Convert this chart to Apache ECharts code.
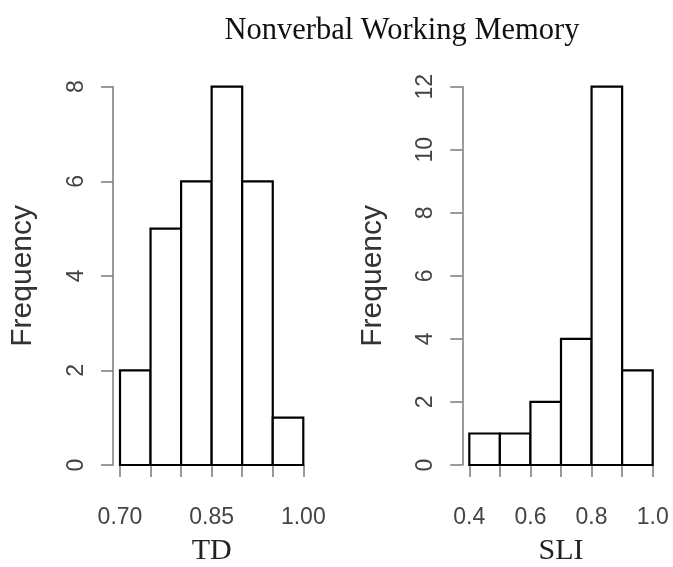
<!DOCTYPE html>
<html>
<head>
<meta charset="utf-8">
<script src="https://cdn.jsdelivr.net/npm/echarts@6/dist/echarts.min.js"></script>
<style>html,body{margin:0;padding:0;background:#fff}#c{width:673px;height:567px}</style>
</head>
<body>
<div id="c"></div>
<script>
// ---- data ----
const chartTitle = 'Nonverbal Working Memory';
const tdBinEdges = [0.70, 0.75, 0.80, 0.85, 0.90, 0.95, 1.00];
const tdCounts = [2, 5, 6, 8, 6, 1];
const tdTickLabels = ['0.70', '0.85', '1.00'];
const tdYTicks = [0, 2, 4, 6, 8];
const sliBinEdges = [0.4, 0.5, 0.6, 0.7, 0.8, 0.9, 1.0];
const sliCounts = [1, 1, 2, 4, 12, 3];
const sliTickLabels = ['0.4', '0.6', '0.8', '1.0'];
const sliYTicks = [0, 2, 4, 6, 8, 10, 12];

function binsData(edges, counts) {
  return counts.map((c, i) => [edges[i], edges[i + 1], c]);
}
function renderBar(params, api) {
  const p0 = api.coord([api.value(0), 0]);
  const p1 = api.coord([api.value(1), api.value(2)]);
  return {
    type: 'rect',
    shape: { x: p0[0], y: p1[1], width: p1[0] - p0[0], height: p0[1] - p1[1] },
    style: { fill: '#fff', stroke: '#000', lineWidth: 2.2 }
  };
}
const sans = 'Liberation Sans, Arial, sans-serif';
const serif = 'Liberation Serif, Times New Roman, serif';
const axisGrey = '#7a7a7a';

function xAxisCfg(grid, edges, labels, name) {
  const step = +(edges[1] - edges[0]).toFixed(4);
  return {
    type: 'value', gridIndex: grid, min: edges[0], max: edges[edges.length - 1], interval: step,
    offset: 15,
    name: name, nameLocation: 'middle', nameGap: 56,
    nameTextStyle: { fontFamily: serif, fontSize: 30, color: '#222' },
    axisLine: { show: true, lineStyle: { color: axisGrey, width: 1.5 } },
    axisTick: { show: true, length: 12, lineStyle: { color: axisGrey, width: 1.5 } },
    splitLine: { show: false },
    axisLabel: {
      margin: 26, fontFamily: sans, fontSize: 23, color: '#444', showMinLabel: true, showMaxLabel: true,
      formatter: v => {
        const s = v.toFixed(labels[0].length - 2);
        return labels.indexOf(s) >= 0 ? s : '';
      }
    }
  };
}
function yAxisCfg(grid, ticks) {
  return {
    type: 'value', gridIndex: grid, min: ticks[0], max: ticks[ticks.length - 1], interval: ticks[1] - ticks[0],
    offset: 7,
    name: 'Frequency', nameLocation: 'middle', nameGap: 75, nameRotate: 90,
    nameTextStyle: { fontFamily: sans, fontSize: 30, color: '#333' },
    axisLine: { show: true, lineStyle: { color: axisGrey, width: 1.5 } },
    axisTick: { show: true, length: 12, lineStyle: { color: axisGrey, width: 1.5 } },
    splitLine: { show: false },
    axisLabel: { rotate: 90, margin: 25, fontFamily: sans, fontSize: 23, color: '#444' }
  };
}

const chart = echarts.init(document.getElementById('c'), null, { renderer: 'canvas' });
chart.setOption({
  animation: false,
  backgroundColor: '#fff',
  title: {
    text: chartTitle, left: 397, top: 10, textAlign: 'center',
    textStyle: { fontFamily: serif, fontSize: 30.5, fontWeight: 'normal', color: '#111' }
  },
  grid: [
    { left: 120, width: 183.3, top: 86.7, bottom: 102, containLabel: false, outerBoundsMode: 'none' },
    { left: 469.3, width: 183.4, top: 86.7, bottom: 102, containLabel: false, outerBoundsMode: 'none' }
  ],
  xAxis: [xAxisCfg(0, tdBinEdges, tdTickLabels, 'TD'), xAxisCfg(1, sliBinEdges, sliTickLabels, 'SLI')],
  yAxis: [yAxisCfg(0, tdYTicks), yAxisCfg(1, sliYTicks)],
  series: [
    { type: 'custom', xAxisIndex: 0, yAxisIndex: 0, renderItem: renderBar, data: binsData(tdBinEdges, tdCounts), encode: { x: [0, 1], y: 2 } },
    { type: 'custom', xAxisIndex: 1, yAxisIndex: 1, renderItem: renderBar, data: binsData(sliBinEdges, sliCounts), encode: { x: [0, 1], y: 2 } }
  ]
});
</script>
</body>
</html>
